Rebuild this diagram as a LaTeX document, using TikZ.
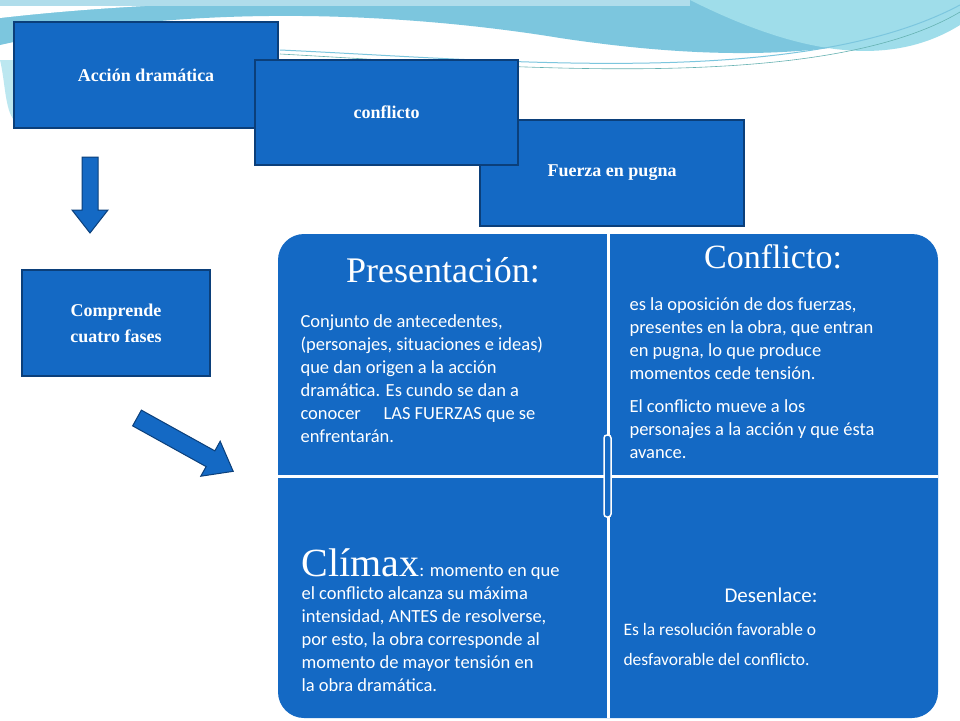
\documentclass[tikz,border=0pt]{standalone}
\usepackage{fontspec}
\setmainfont{Liberation Serif}
\newfontfamily\calfont{Carlito}
\definecolor{bx}{HTML}{1469C4}
\definecolor{bd}{HTML}{0B3F7A}
\definecolor{wv1}{HTML}{9FDDEA}
\definecolor{wv2}{HTML}{7CC6DE}
\begin{document}
\begin{tikzpicture}[x=1pt,y=-1pt,
  box/.style={draw=bd,line width=1.5pt,fill=bx,text=white,font=\bfseries\fontsize{18}{26}\selectfont,align=center},
  arr/.style={draw=bd,fill=bx,line width=1pt},
  body/.style={text=white,font=\calfont\fontsize{18.5}{23}\selectfont,align=left,anchor=north west}]
\useasboundingbox (0,0) rectangle (960,720);
\fill[white] (0,0) rectangle (960,720);
% background waves
\fill[wv2] (0,0) -- (0,45) .. controls (200,0) and (420,15) .. (560,38) .. controls (720,62) and (860,60) .. (960,12) -- (960,0) -- cycle;
\fill[wv1] (690,0) .. controls (780,45) and (880,75) .. (960,25) -- (960,0) -- cycle;
\fill[white] (0,18) .. controls (200,-5) and (420,0) .. (690,0) -- (0,0) -- cycle;
\fill[wv2!60] (0,0) rectangle (690,6);
\draw[wv2,line width=1pt] (280,50) .. controls (500,60) and (800,90) .. (960,5);
\draw[teal!60,line width=0.6pt] (280,54) .. controls (500,66) and (820,95) .. (960,12);
\fill[wv1!70] (0,60) .. controls (5,80) and (5,110) .. (14,120) -- (14,60) -- cycle;
% top boxes
\node[box,minimum width=264,minimum height=106] (a) at (146,75) {Acción dramática};
\node[box,minimum width=264,minimum height=106] (f) at (612,173) {Fuerza en pugna};
\node[box,minimum width=263,minimum height=105] (c) at (386.5,112.5) {conflicto};
\node[box,minimum width=188,minimum height=106] (cc) at (116,323) {Comprende\\cuatro fases};
% arrows
\draw[arr] (82,157) -- (98,157) -- (98,210) -- (108,210) -- (90,233) -- (72,210) -- (82,210) -- cycle;
\coordinate (d1) at (137,418);
\begin{scope}[shift={(d1)},rotate=-29]
\draw[arr] (0,-9) -- (84,-9) -- (84,-20) -- (110,0) -- (84,20) -- (84,9) -- (0,9) -- cycle;
\end{scope}
% grid
\fill[bx,rounded corners=26] (278,234) rectangle (938,718);
\draw[white,line width=3pt] (608,234) -- (608,718);
\draw[white,line width=3pt] (278,476) -- (938,476);
\draw[white,line width=1.5pt,fill=bx,rounded corners=3] (604,435) rectangle (611,517);
\node[text=white,font=\fontsize{36}{40}\selectfont] (p) at (443,270) {Presentación:};
\node[body] (pt) at (297,311) {Conjunto de antecedentes,\\(personajes,\ situaciones e ideas)\\que dan origen a\ la acción\\dramática. Es cundo se dan a\\conocer\quad\ LAS FUERZAS que se\\enfrentarán.};
\node[text=white,font=\fontsize{34}{38}\selectfont] (co) at (773,257) {Conflicto:};
\node[body] (ct) at (626,294) {es la oposición de dos fuerzas,\\presentes en la obra, que entran\\en pugna, lo que produce\\momentos cede tensión.};
\node[body] (ct2) at (626,396) {El conflicto mueve a los\\personajes\ a la acción y que ésta\\avance.};
\node[body] (cl) at (298,545) {{\rmfamily\fontsize{40}{44}\selectfont Clímax}: momento en que\\el conflicto alcanza su máxima\\intensidad, ANTES de resolverse,\\por esto, la obra corresponde al\\momento de mayor tensión en\\la obra dramática.};
\node[text=white,font=\calfont\fontsize{21}{25}\selectfont] (de) at (771,595) {Desenlace:};
\node[body,font=\calfont\fontsize{17.5}{30}\selectfont] (dt) at (620,620) {Es la resolución favorable o\\desfavorable del conflicto.};
\end{tikzpicture}
\end{document}
